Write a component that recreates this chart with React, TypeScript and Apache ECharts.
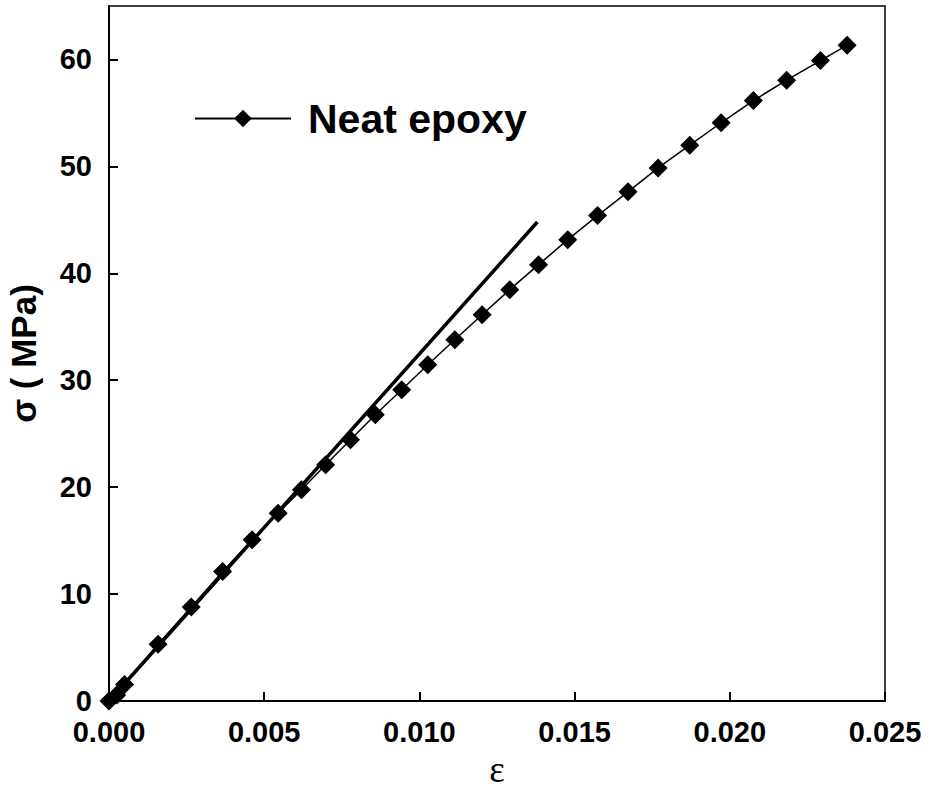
import React, { useEffect, useRef } from "react";
import * as echarts from "echarts";

const strain = [0, 0.00025, 0.0005, 0.00158, 0.00265, 0.00366, 0.00461, 0.00545, 0.0062, 0.00698, 0.00778, 0.00858, 0.00943, 0.01027, 0.01114, 0.01202, 0.01291, 0.01384, 0.01478, 0.01574, 0.01672, 0.01769, 0.01871, 0.01972, 0.02076, 0.02183, 0.02292, 0.02378];
const stress = [0, 0.55, 1.55, 5.31, 8.8, 12.1, 15.07, 17.57, 19.75, 22.1, 24.43, 26.77, 29.11, 31.45, 33.79, 36.13, 38.47, 40.81, 43.15, 45.4, 47.62, 49.86, 51.98, 54.08, 56.16, 58.06, 59.9, 61.34];
const fitStrain = [0, 0.0138];
const fitStress = [0, 44.8];
const seriesName = "Neat epoxy";

export default function App() {
  const ref = useRef<HTMLDivElement>(null);
  useEffect(() => {
    if (!ref.current) return;
    const chart = echarts.init(ref.current, null, { renderer: "svg" });
    const font = "Arial, 'Liberation Sans', sans-serif";
    chart.setOption({
      animation: false,
      backgroundColor: "#fff",
      grid: {
        left: 109,
        top: 6,
        right: 45,
        bottom: 90,
        show: true,
        borderColor: "#000",
        borderWidth: 1.5,
        containLabel: false,
        outerBoundsMode: "none",
      },
      legend: {
        data: [seriesName],
        left: 189,
        top: 93,
        itemWidth: 96,
        itemHeight: 22,
        itemGap: 20,
        textStyle: { fontFamily: font, fontWeight: "bold", fontSize: 41, color: "#000", padding: [0, 0, 0, 12] },
      },
      xAxis: {
        type: "value",
        min: 0,
        max: 0.025,
        interval: 0.005,
        name: "ε",
        nameLocation: "middle",
        nameGap: 60,
        nameTextStyle: { fontFamily: "'Liberation Serif', 'DejaVu Serif', serif", fontSize: 37, lineHeight: 37, verticalAlign: "middle", color: "#000" },
        axisLine: { show: true, lineStyle: { color: "#000", width: 2 } },
        axisTick: { show: true, inside: true, length: 9, lineStyle: { color: "#000", width: 2 } },
        axisLabel: {
          margin: 16,
          fontFamily: font,
          fontWeight: "bold",
          fontSize: 29,
          color: "#000",
          formatter: (v: number) => v.toFixed(3),
        },
        splitLine: { show: false },
      },
      yAxis: {
        type: "value",
        min: 0,
        max: 65,
        interval: 10,
        name: "σ ( MPa)",
        nameLocation: "middle",
        nameGap: 68,
        nameRotate: 90,
        nameTextStyle: { fontFamily: font, fontWeight: "bold", fontSize: 35, color: "#000" },
        axisLine: { show: true, lineStyle: { color: "#000", width: 2 } },
        axisTick: { show: true, inside: true, length: 9, lineStyle: { color: "#000", width: 2 } },
        axisLabel: {
          margin: 17,
          fontFamily: font,
          fontWeight: "bold",
          fontSize: 29,
          color: "#000",
          showMaxLabel: false,
          formatter: (v: number) => (v > 60 ? "" : String(v)),
        },
        splitLine: { show: false },
      },
      series: [
        {
          name: "Elastic fit",
          type: "line",
          data: fitStrain.map((x, i) => [x, fitStress[i]]),
          showSymbol: false,
          symbol: "none",
          lineStyle: { color: "#000", width: 3.5 },
          z: 1,
        },
        {
          name: seriesName,
          type: "line",
          data: strain.map((x, i) => [x, stress[i]]),
          symbol: "diamond",
          symbolSize: 19,
          itemStyle: { color: "#000" },
          lineStyle: { color: "#000", width: 1.5 },
          z: 2,
        },
      ],
    });
    return () => chart.dispose();
  }, []);
  return <div ref={ref} style={{ width: 930, height: 791, position: "absolute", left: 0, top: 0 }} />;
}
